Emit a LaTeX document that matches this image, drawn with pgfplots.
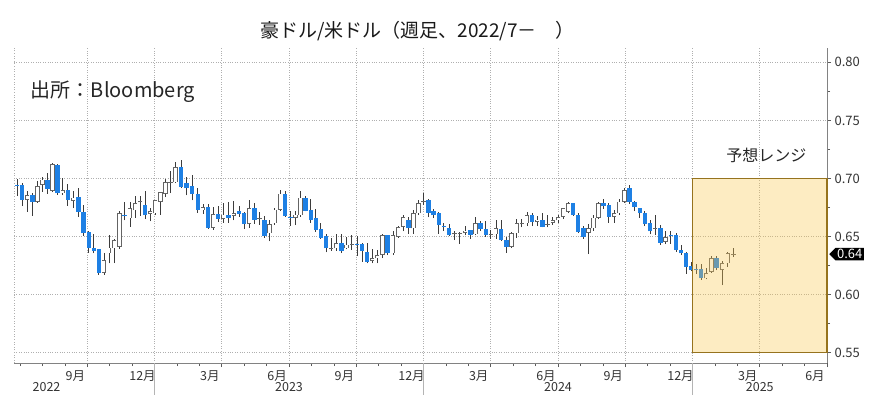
\documentclass[border=0pt]{standalone}
\usepackage{fontspec}
\setmainfont{Noto Sans CJK JP}
\usepackage{pgfplots}
\usepackage{pgfplotstable}
\pgfplotsset{compat=1.18}
\usetikzlibrary{shapes.symbols}

\definecolor{candleblue}{RGB}{30,128,228}
\definecolor{hollowedge}{RGB}{100,100,100}
\definecolor{wickgray}{RGB}{60,60,60}
\definecolor{gridgray}{RGB}{175,175,175}
\definecolor{axisgray}{RGB}{130,130,130}
\definecolor{boxfill}{RGB}{250,200,80}
\definecolor{boxedge}{RGB}{150,115,30}

% weekly candles, x = months since Jan 2022
\pgfplotstableread{
x o h l c
5.867 0.6945 0.6992 0.6849 0.6940
6.097 0.6940 0.6965 0.6763 0.6815
6.323 0.6815 0.6895 0.6714 0.6855
6.548 0.6855 0.6873 0.6681 0.6800
6.774 0.6800 0.6977 0.6790 0.6935
7.000 0.6945 0.7015 0.6885 0.6990
7.226 0.6990 0.7047 0.6870 0.6910
7.452 0.6895 0.7136 0.6880 0.7125
7.677 0.7115 0.7125 0.6862 0.6872
7.903 0.6872 0.7000 0.6856 0.6900
8.133 0.6900 0.6956 0.6765 0.6815
8.367 0.6810 0.6890 0.6745 0.6835
8.600 0.6840 0.6920 0.6671 0.6712
8.833 0.6712 0.6770 0.6508 0.6527
9.065 0.6540 0.6547 0.6363 0.6400
9.290 0.6400 0.6525 0.6355 0.6375
9.516 0.6390 0.6395 0.6170 0.6185
9.742 0.6188 0.6357 0.6171 0.6300
9.968 0.6355 0.6510 0.6270 0.6405
10.200 0.6400 0.6480 0.6272 0.6470
10.433 0.6411 0.6720 0.6395 0.6704
10.667 0.6690 0.6797 0.6640 0.6675
10.900 0.6658 0.6800 0.6585 0.6744
11.129 0.6727 0.6845 0.6660 0.6787
11.355 0.6795 0.6850 0.6680 0.6800
11.581 0.6776 0.6893 0.6650 0.6684
11.806 0.6693 0.6750 0.6630 0.6718
12.032 0.6700 0.6815 0.6690 0.6813
12.258 0.6799 0.6888 0.6688 0.6885
12.484 0.6870 0.6994 0.6840 0.6970
12.710 0.6966 0.7063 0.6874 0.6968
12.935 0.6966 0.7142 0.6960 0.7100
13.179 0.7100 0.7158 0.6917 0.6925
13.429 0.6957 0.7011 0.6855 0.6914
13.679 0.6934 0.7030 0.6812 0.6870
13.929 0.6870 0.6920 0.6705 0.6727
14.161 0.6727 0.6783 0.6695 0.6755
14.387 0.6755 0.6783 0.6565 0.6575
14.613 0.6578 0.6757 0.6560 0.6693
14.839 0.6693 0.6759 0.6625 0.6655
15.067 0.6655 0.6793 0.6620 0.6688
15.300 0.6688 0.6800 0.6620 0.6660
15.533 0.6676 0.6806 0.6640 0.6704
15.767 0.6716 0.6760 0.6670 0.6693
16.000 0.6704 0.6710 0.6564 0.6607
16.226 0.6607 0.6818 0.6574 0.6742
16.452 0.6742 0.6785 0.6610 0.6644
16.677 0.6650 0.6710 0.6600 0.6656
16.903 0.6640 0.6680 0.6490 0.6503
17.133 0.6527 0.6640 0.6458 0.6607
17.367 0.6613 0.6750 0.6600 0.6733
17.600 0.6733 0.6900 0.6720 0.6870
17.833 0.6870 0.6896 0.6670 0.6676
18.065 0.6666 0.6721 0.6594 0.6662
18.290 0.6660 0.6717 0.6598 0.6690
18.516 0.6684 0.6895 0.6670 0.6836
18.742 0.6836 0.6850 0.6716 0.6721
18.968 0.6727 0.6822 0.6620 0.6640
19.194 0.6656 0.6740 0.6540 0.6555
19.419 0.6561 0.6615 0.6480 0.6492
19.645 0.6503 0.6523 0.6364 0.6398
19.871 0.6390 0.6490 0.6380 0.6392
20.100 0.6398 0.6522 0.6380 0.6446
20.333 0.6446 0.6522 0.6357 0.6372
20.567 0.6400 0.6500 0.6390 0.6430
20.800 0.6430 0.6511 0.6385 0.6434
21.032 0.6432 0.6501 0.6333 0.6430
21.258 0.6432 0.6445 0.6285 0.6375
21.484 0.6369 0.6445 0.6270 0.6282
21.710 0.6290 0.6390 0.6270 0.6312
21.935 0.6312 0.6381 0.6270 0.6340
22.167 0.6340 0.6522 0.6314 0.6512
22.400 0.6512 0.6515 0.6340 0.6355
22.633 0.6355 0.6550 0.6340 0.6512
22.867 0.6497 0.6590 0.6490 0.6583
23.097 0.6583 0.6690 0.6545 0.6670
23.323 0.6647 0.6670 0.6525 0.6570
23.548 0.6570 0.6728 0.6525 0.6699
23.774 0.6700 0.6818 0.6690 0.6790
24.000 0.6800 0.6871 0.6770 0.6807
24.226 0.6813 0.6820 0.6665 0.6704
24.452 0.6720 0.6740 0.6660 0.6684
24.677 0.6699 0.6710 0.6525 0.6599
24.903 0.6583 0.6620 0.6550 0.6583
25.138 0.6578 0.6610 0.6505 0.6512
25.379 0.6520 0.6550 0.6470 0.6527
25.621 0.6527 0.6540 0.6440 0.6530
25.862 0.6530 0.6595 0.6510 0.6550
26.097 0.6555 0.6560 0.6480 0.6512
26.323 0.6520 0.6668 0.6510 0.6618
26.548 0.6618 0.6638 0.6550 0.6561
26.774 0.6561 0.6634 0.6500 0.6512
27.000 0.6512 0.6560 0.6480 0.6518
27.233 0.6518 0.6645 0.6480 0.6570
27.467 0.6561 0.6644 0.6460 0.6470
27.700 0.6469 0.6500 0.6362 0.6411
27.933 0.6411 0.6540 0.6400 0.6527
28.161 0.6527 0.6648 0.6490 0.6613
28.387 0.6608 0.6650 0.6580 0.6612
28.613 0.6613 0.6715 0.6590 0.6684
28.839 0.6684 0.6700 0.6590 0.6627
29.067 0.6627 0.6680 0.6590 0.6647
29.300 0.6647 0.6700 0.6580 0.6585
29.533 0.6600 0.6690 0.6580 0.6605
29.767 0.6618 0.6665 0.6600 0.6640
30.000 0.6640 0.6690 0.6620 0.6670
30.226 0.6670 0.6745 0.6650 0.6742
30.452 0.6713 0.6798 0.6700 0.6785
30.677 0.6785 0.6790 0.6680 0.6684
30.903 0.6690 0.6700 0.6530 0.6540
31.129 0.6570 0.6590 0.6480 0.6497
31.355 0.6533 0.6612 0.6349 0.6570
31.581 0.6570 0.6690 0.6550 0.6664
31.806 0.6664 0.6800 0.6650 0.6790
32.033 0.6790 0.6824 0.6740 0.6760
32.267 0.6770 0.6790 0.6620 0.6670
32.500 0.6670 0.6730 0.6620 0.6699
32.733 0.6699 0.6820 0.6690 0.6800
32.967 0.6800 0.6920 0.6790 0.6900
33.194 0.6914 0.6943 0.6780 0.6800
33.419 0.6800 0.6810 0.6720 0.6753
33.645 0.6742 0.6750 0.6660 0.6699
33.871 0.6704 0.6720 0.6590 0.6607
34.100 0.6618 0.6640 0.6520 0.6545
34.333 0.6570 0.6684 0.6512 0.6572
34.567 0.6578 0.6600 0.6430 0.6449
34.800 0.6454 0.6550 0.6435 0.6497
35.032 0.6510 0.6550 0.6440 0.6508
35.258 0.6512 0.6530 0.6370 0.6383
35.484 0.6383 0.6430 0.6340 0.6355
35.710 0.6355 0.6370 0.6180 0.6240
35.935 0.6245 0.6280 0.6200 0.6211
36.161 0.6215 0.6260 0.6180 0.6210
36.387 0.6217 0.6260 0.6130 0.6140
36.613 0.6140 0.6230 0.6131 0.6188
36.839 0.6196 0.6330 0.6190 0.6312
37.071 0.6312 0.6330 0.6210 0.6226
37.321 0.6211 0.6290 0.6082 0.6269
37.571 0.6269 0.6370 0.6240 0.6355
37.821 0.6345 0.6398 0.6323 0.6349
}\candles

\begin{document}
\begin{tikzpicture}
\path[use as bounding box] (-14pt,-50pt) rectangle (867pt,363pt);
\begin{axis}[
  at={(0pt,0pt)}, anchor=south west,
  scale only axis,
  width=813pt, height=315pt,
  xmin=5.73, xmax=42,
  ymin=0.5412, ymax=0.8123,
  clip=false,
  axis x line*=bottom,
  axis y line*=right,
  axis line style={axisgray, line width=0.9pt},
  tick style={axisgray!70!black, line width=0.6pt},
  tick align=outside,
  major tick length=4pt,
  minor tick length=3pt,
  xtick={9,12,...,42},
  xticklabels={9月,12月,3月,6月,9月,12月,3月,6月,9月,12月,3月,6月},
  minor xtick={6,7,...,41},
  xticklabel style={font=\fontsize{12.5pt}{14pt}\selectfont, text=black!80, xshift=-12pt},
  ytick={0.55,0.6,0.65,0.7,0.75,0.8},
  minor ytick={0.575,0.625,0.675,0.725,0.775},
  yticklabel style={font=\fontsize{13pt}{15pt}\selectfont, text=black!80,
    /pgf/number format/.cd, fixed, fixed zerofill, precision=2, assume math mode=true},
  grid=major,
  major grid style={dotted, gridgray, line width=0.6pt},
]
% left border of the plot
\draw[dotted, gridgray, line width=0.6pt] (rel axis cs:0,0) -- (rel axis cs:0,1);

% wicks
\addplot[draw=wickgray, line width=0.75pt,
  quiver={u=0, v=\thisrow{h}-\thisrow{l}}]
  table[x=x, y=l] {\candles};
% rising weeks: hollow bodies
\addplot[draw=hollowedge, line width=4.4pt,
  quiver={u=0, v={max(\thisrow{c}-\thisrow{o},0.0008)}},
  restrict expr to domain={\thisrow{c}-\thisrow{o}}{0:1}]
  table[x=x, y=o] {\candles};
\addplot[draw=white, line width=3pt,
  quiver={u=0, v=\thisrow{c}-\thisrow{o},
    every arrow/.append style={shorten <=0.7pt, shorten >=0.7pt}},
  restrict expr to domain={\thisrow{c}-\thisrow{o}}{0.0014:1}]
  table[x=x, y=o] {\candles};
% falling weeks: blue bodies
\addplot[draw=candleblue, line width=4.4pt,
  quiver={u=0, v={max(\thisrow{o}-\thisrow{c},0.0008)}},
  restrict expr to domain={\thisrow{o}-\thisrow{c}}{0:1}]
  table[x=x, y=c] {\candles};

% forecast range
\fill[boxfill, fill opacity=0.35] (axis cs:36,0.55) rectangle (axis cs:42,0.70);
\draw[boxedge, line width=1.2pt] (axis cs:36,0.55) rectangle (axis cs:42,0.70);
\node[font=\fontsize{16pt}{18pt}\selectfont, text=black!85] at (axis cs:39.29,0.7195) {予想レンジ};

\node[font=\fontsize{20pt}{22pt}\selectfont, text=black!85, anchor=west] at (axis cs:6.33,0.7744) {出所：Bloomberg};

% last value tag
\node[signal, signal to=west, fill=black, text=white, inner sep=1.5pt, anchor=west,
  font=\fontsize{13pt}{15pt}\selectfont] at (axis cs:42,0.6349) [xshift=2pt] {0.64};

% years
\draw[axisgray!60, line width=0.6pt] (axis cs:12,0.5412) -- ++(0pt,-32pt);
\draw[axisgray!60, line width=0.6pt] (axis cs:24,0.5412) -- ++(0pt,-32pt);
\draw[axisgray!60, line width=0.6pt] (axis cs:36,0.5412) -- ++(0pt,-32pt);
\node[font=\fontsize{12.5pt}{14pt}\selectfont, text=black!80] at (axis cs:7.18,0.5412) [yshift=-24pt] {2022};
\node[font=\fontsize{12.5pt}{14pt}\selectfont, text=black!80] at (axis cs:18,0.5412) [yshift=-24pt] {2023};
\node[font=\fontsize{12.5pt}{14pt}\selectfont, text=black!80] at (axis cs:30,0.5412) [yshift=-24pt] {2024};
\node[font=\fontsize{12.5pt}{14pt}\selectfont, text=black!80] at (axis cs:39,0.5412) [yshift=-24pt] {2025};
\end{axis}
\node[font=\fontsize{19pt}{21pt}\selectfont, text=black!90] at (403.5pt,332pt) {豪ドル/米ドル（週足、2022/7－　）};
\end{tikzpicture}
\end{document}
